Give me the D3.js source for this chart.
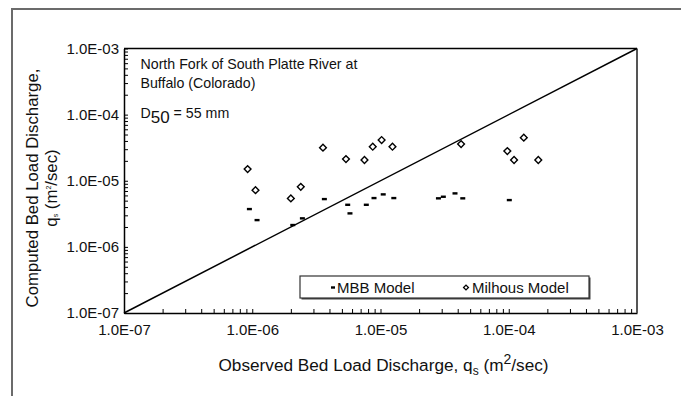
<!DOCTYPE html>
<html>
<head>
<meta charset="utf-8">
<script src="https://cdn.jsdelivr.net/npm/d3@7"></script>
<style>
  body { margin: 0; background: #fff; }
  svg { display: block; font-family: "Liberation Sans", Arial, sans-serif; }
  .axis path, .axis line { stroke: #000; }
  .axis text { font-family: "Liberation Sans", Arial, sans-serif; fill: #111; }
</style>
</head>
<body>
<div id="chart"></div>
<script>
// data (observed vs computed, m2/sec)
const mbbObserved = [9.5e-7, 1.09e-6, 2.07e-6, 2.46e-6, 3.65e-6, 5.55e-6, 5.78e-6, 7.75e-6, 8.9e-6, 1.05e-5, 1.27e-5, 2.83e-5, 3.09e-5, 3.81e-5, 4.38e-5, 1.01e-4];
const mbbComputed = [3.73e-6, 2.54e-6, 2.14e-6, 2.70e-6, 5.28e-6, 4.33e-6, 3.21e-6, 4.33e-6, 5.47e-6, 6.22e-6, 5.47e-6, 5.42e-6, 5.73e-6, 6.44e-6, 5.42e-6, 5.1e-6];
const milhousObserved = [9.2e-7, 1.06e-6, 2.0e-6, 2.39e-6, 3.56e-6, 5.38e-6, 7.5e-6, 8.7e-6, 1.02e-5, 1.24e-5, 4.25e-5, 9.75e-5, 1.10e-4, 1.31e-4, 1.70e-4];
const milhousComputed = [1.50e-5, 7.2e-6, 5.4e-6, 8.1e-6, 3.16e-5, 2.13e-5, 2.06e-5, 3.27e-5, 4.13e-5, 3.27e-5, 3.59e-5, 2.81e-5, 2.06e-5, 4.48e-5, 2.06e-5];
const decades = [1e-7, 1e-6, 1e-5, 1e-4, 1e-3];
const tickLabels = ["1.0E-07", "1.0E-06", "1.0E-05", "1.0E-04", "1.0E-03"];
const lineOfAgreement = [1e-7, 1e-3];

const svg_width = 681;
const svg_height = 396;
const margin = { top: 48.5, right: 44, bottom: 83, left: 124 };
const width = svg_width - margin.left - margin.right;
const height = svg_height - margin.top - margin.bottom;

const svg = d3.select("#chart").append("svg")
    .attr("width", svg_width)
    .attr("height", svg_height);

// outer frame (only top and left edges visible)
svg.append("path")
    .attr("d", `M12,${svg_height} L12,9 L${svg_width},9`)
    .attr("fill", "none").attr("stroke", "#6b6b6b").attr("stroke-width", 2);

const g = svg.append("g").attr("transform", `translate(${margin.left},${margin.top})`);

const x = d3.scaleLog().domain([1e-7, 1e-3]).range([0, width]);
const y = d3.scaleLog().domain([1e-7, 1e-3]).range([height, 0]);

// minor + major ticks
const allTicks = [];
decades.slice(0, -1).forEach(d => {
    for (let k = 1; k <= 9; k++) allTicks.push(d * k);
});
allTicks.push(1e-3);
const labelFor = v => {
    const i = decades.findIndex(d => Math.abs(Math.log10(v) - Math.log10(d)) < 1e-6);
    return i >= 0 ? tickLabels[i] : "";
};

const xAxis = d3.axisBottom(x).tickValues(allTicks).tickFormat(labelFor)
    .tickSizeInner(-4).tickSizeOuter(0).tickPadding(11);
const yAxis = d3.axisLeft(y).tickValues(allTicks).tickFormat(labelFor)
    .tickSizeInner(-4).tickSizeOuter(0).tickPadding(5);

g.append("g").attr("class", "x axis")
    .attr("transform", `translate(0,${height})`)
    .call(xAxis)
    .call(s => s.selectAll("text").style("font-size", "15px"))
    .call(s => s.select(".domain").attr("stroke-width", 1.5));

g.append("g").attr("class", "y axis")
    .call(yAxis)
    .call(s => s.selectAll("text").style("font-size", "15px"))
    .call(s => s.select(".domain").attr("stroke-width", 1.5));

// top and right borders of plot
g.append("line").attr("x1", 0).attr("x2", width).attr("y1", 0).attr("y2", 0)
    .attr("stroke", "#000").attr("stroke-width", 1.5);
g.append("line").attr("x1", width).attr("x2", width).attr("y1", 0).attr("y2", height)
    .attr("stroke", "#555").attr("stroke-width", 2);

// 1:1 line
g.append("line")
    .attr("x1", x(lineOfAgreement[0])).attr("y1", y(lineOfAgreement[0]))
    .attr("x2", x(lineOfAgreement[1])).attr("y2", y(lineOfAgreement[1]))
    .attr("stroke", "#000").attr("stroke-width", 1.5);

// MBB model dashes
const mbb = mbbObserved.map((d, i) => ({ obs: d, comp: mbbComputed[i] }));
g.append("g").selectAll("rect").data(mbb).join("rect")
    .attr("x", d => x(d.obs) - 2.5)
    .attr("y", d => y(d.comp) - 1.2)
    .attr("width", 5).attr("height", 2.4)
    .attr("fill", "#000");

// Milhous model diamonds
const milhous = milhousObserved.map((d, i) => ({ obs: d, comp: milhousComputed[i] }));
const diamond = d3.symbol().type(d3.symbolSquare).size(23);
g.append("g").selectAll("path").data(milhous).join("path")
    .attr("d", diamond)
    .attr("transform", d => `translate(${x(d.obs)},${y(d.comp)}) rotate(45)`)
    .attr("fill", "#fff").attr("stroke", "#000").attr("stroke-width", 1.4);

// annotation
const note = g.append("text").attr("x", 16.5).attr("y", 20.5)
    .style("font-size", "14.2px").attr("fill", "#111");
note.append("tspan").text("North Fork of South Platte River at");
note.append("tspan").attr("x", 16.5).attr("dy", 19).text("Buffalo (Colorado)");
const d50 = g.append("text").attr("x", 16.5).attr("y", 69)
    .style("font-size", "14.2px").attr("fill", "#111");
d50.append("tspan").text("D");
d50.append("tspan").attr("dy", 5).style("font-size", "17px").text("50");
d50.append("tspan").attr("dy", -5).text(" = 55 mm");

// legend
const legend = svg.append("g").attr("transform", "translate(300,276)");
legend.append("rect").attr("x", 1.5).attr("y", 1.5).attr("width", 289).attr("height", 22)
    .attr("fill", "#444");
legend.append("rect").attr("width", 289).attr("height", 22)
    .attr("fill", "#fff").attr("stroke", "#333").attr("stroke-width", 1.2);
legend.append("rect").attr("x", 31).attr("y", 10.3).attr("width", 4).attr("height", 2.4).attr("fill", "#000");
legend.append("text").attr("x", 37).attr("y", 17).style("font-size", "15px").attr("fill", "#111").text("MBB Model");
legend.append("path").attr("d", d3.symbol().type(d3.symbolSquare).size(12))
    .attr("transform", "translate(166,11.5) rotate(45)")
    .attr("fill", "#fff").attr("stroke", "#000").attr("stroke-width", 1.3);
legend.append("text").attr("x", 172).attr("y", 17).style("font-size", "15px").attr("fill", "#111").text("Milhous Model");

// x title
const xt = svg.append("text")
    .attr("x", margin.left + width / 2 + 3).attr("y", 371)
    .attr("text-anchor", "middle").style("font-size", "17.2px").attr("fill", "#111");
xt.append("tspan").text("Observed Bed Load Discharge, q");
xt.append("tspan").attr("dy", 4).style("font-size", "12px").text("s");
xt.append("tspan").attr("dy", -4).text(" (m");
xt.append("tspan").attr("dy", -7).style("font-size", "14px").text("2");
xt.append("tspan").attr("dy", 7).text("/sec)");

// y title
const yt = svg.append("g").attr("transform", "translate(0,188) rotate(-90)");
yt.append("text").attr("x", 0).attr("y", 38).attr("text-anchor", "middle")
    .style("font-size", "16.8px").attr("fill", "#111").text("Computed Bed Load Discharge,");
const yt2 = yt.append("text").attr("x", 0).attr("y", 57).attr("text-anchor", "middle")
    .style("font-size", "16.8px").attr("fill", "#111");
yt2.append("tspan").text("q");
yt2.append("tspan").attr("dy", 1).style("font-size", "7px").text("s");
yt2.append("tspan").attr("dy", -1).text(" (m");
yt2.append("tspan").attr("dy", -6).style("font-size", "7px").text("2");
yt2.append("tspan").attr("dy", 6).text("/sec)");
</script>
</body>
</html>
